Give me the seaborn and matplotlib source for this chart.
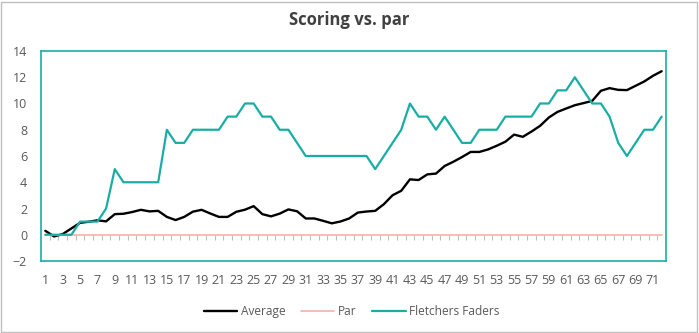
import numpy as np
import pandas as pd
import matplotlib
matplotlib.use("Agg")
import matplotlib.pyplot as plt
import seaborn as sns

# Round-by-round running totals relative to par
rounds = list(range(1, 73))

average = [
    0.30, -0.13, 0.05, 0.48, 0.91, 0.99, 1.10, 1.02, 1.57, 1.60,
    1.73, 1.90, 1.78, 1.82, 1.36, 1.12, 1.36, 1.76, 1.90, 1.62,
    1.36, 1.36, 1.75, 1.91, 2.18, 1.57, 1.40, 1.61, 1.93, 1.79,
    1.24, 1.24, 1.06, 0.87, 1.01, 1.24, 1.69, 1.77, 1.82, 2.33,
    3.01, 3.35, 4.22, 4.17, 4.60, 4.66, 5.24, 5.56, 5.92, 6.31,
    6.31, 6.50, 6.78, 7.09, 7.63, 7.46, 7.86, 8.30, 8.93, 9.36,
    9.62, 9.87, 10.03, 10.20, 10.97, 11.17, 11.04, 11.02, 11.35, 11.68,
    12.11, 12.46,
]

par = [0] * 72

fletchers_faders = [
    0, 0, 0, 0, 1, 1, 1, 2, 5, 4,
    4, 4, 4, 4, 8, 7, 7, 8, 8, 8,
    8, 9, 9, 10, 10, 9, 9, 8, 8, 7,
    6, 6, 6, 6, 6, 6, 6, 6, 5, 6,
    7, 8, 10, 9, 9, 8, 9, 8, 7, 7,
    8, 8, 8, 9, 9, 9, 9, 10, 10, 11,
    11, 12, 11, 10, 10, 9, 7, 6, 7, 8,
    8, 9,
]

series_names = ["Average", "Par", "Fletchers Faders"]
series_colors = ["#000000", "#F4B3A4", "#1AADA6"]
series_widths = [1.7, 1.2, 1.6]

df = pd.concat(
    [
        pd.DataFrame({"Round": rounds, "Score": vals, "Series": name})
        for name, vals in zip(series_names, [average, par, fletchers_faders])
    ],
    ignore_index=True,
)

sns.set_theme(style="white")
plt.rcParams["font.family"] = ["Open Sans", "DejaVu Sans"]

text_gray = "#595959"
frame_teal = "#1AADA6"

fig = plt.figure(figsize=(6.99, 3.33), dpi=100)
ax = fig.add_axes([41 / 699, 1 - 261 / 333, (666 - 41) / 699, (261 - 51) / 333])

sns.lineplot(
    data=df, x="Round", y="Score", hue="Series",
    hue_order=series_names, palette=dict(zip(series_names, series_colors)),
    sort=False, legend=False, ax=ax,
)
for line, lw in zip(ax.lines, series_widths):
    line.set_linewidth(lw)
    line.set_solid_joinstyle("round")

ax.set_xlim(0.5, 72.5)
ax.set_ylim(-2, 14)
ax.set_yticks(np.arange(-2, 15, 2))
ax.set_xticks(rounds[::2])
ax.set_xticklabels([str(r) for r in rounds[::2]])
ax.set_xlabel("")
ax.set_ylabel("")
ax.tick_params(axis="both", length=0, labelsize=9, colors=text_gray)
ax.tick_params(axis="y", pad=10)
ax.tick_params(axis="x", pad=9.5)
ax.grid(False)

for sp in ax.spines.values():
    sp.set_color(frame_teal)
    sp.set_linewidth(1.2)
    sp.set_visible(True)

# Category boundary tick marks along the zero line
zero_frac = (0 - (-2)) / (14 - (-2))
secax = ax.secondary_xaxis(zero_frac)
secax.set_xticks(np.arange(1.5, 72, 1))
secax.tick_params(axis="x", direction="out", length=3.5, width=0.8,
                  color="#BFBFBF", labelbottom=False, labeltop=False,
                  bottom=True, top=False)
secax.spines["bottom"].set_visible(False)
secax.spines["top"].set_visible(False)

fig.suptitle("Scoring vs. par", x=0.5, y=0.967, fontsize=12,
             fontweight="bold", color="#404040")

handles = ax.lines[:3]
leg = fig.legend(handles, series_names, loc="center", bbox_to_anchor=(0.503, 0.064),
                 ncol=3, frameon=False, fontsize=8.6, handlelength=2.8,
                 handletextpad=0.3, columnspacing=1.3)
for t in leg.get_texts():
    t.set_color(text_gray)

fig.patches.append(plt.Rectangle((1 / 699, 1.5 / 333), 695.5 / 699, 330 / 333,
                                 transform=fig.transFigure, fill=False,
                                 edgecolor="#BFBFBF", linewidth=1))

fig.savefig("out.png", dpi=100)
